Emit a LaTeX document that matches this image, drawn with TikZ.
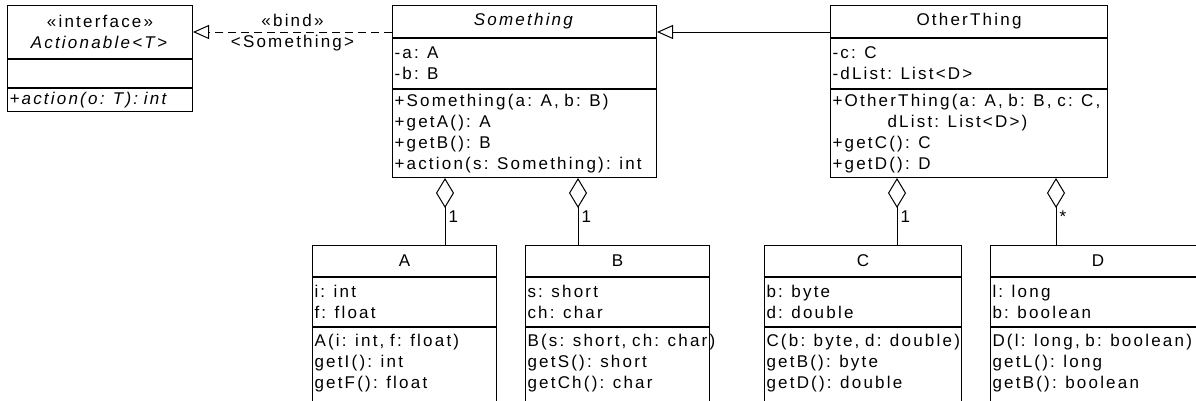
\documentclass[tikz,border=0pt]{standalone}
\usepackage{fontspec}
\setmainfont{Liberation Sans}[LetterSpace=13]
\usetikzlibrary{positioning, arrows.meta}

\begin{document}
\begin{tikzpicture}[x=1pt, y=-1pt, line width=1pt, font=\fontsize{17}{21}\selectfont]
	\tikzstyle{head}=[draw, anchor=north west, inner sep=0pt, align=center]
	\tikzstyle{part}=[draw, inner xsep=2pt, inner ysep=0pt, align=left]
	\tikzstyle{agg}=[{Diamond[open,length=30pt,width=18pt]}-]
	\tikzstyle{gen}=[-{Triangle[open,length=16pt,width=14pt]}]
	\useasboundingbox (0,0) rectangle (1196,400);

	% interface
	\node[head, minimum width=185pt, minimum height=53pt](Ihead) at (7,5){«interface»\\\textit{Actionable<T>}};
	\node[part, below=0pt of Ihead, text width=181pt, minimum height=28pt](Iattr){};
	\node[part, below=0pt of Iattr, text width=181pt, minimum height=23pt](Imeth){\textit{+action(o: T): int}};

	% abstract class
	\node[head, minimum width=264pt, minimum height=32pt](Shead) at (392,5){\textit{Something}};
	\node[part, below=0pt of Shead, text width=260pt, minimum height=50pt](Sattr){-a: A\\-b: B};
	\node[part, below=0pt of Sattr, text width=260pt, minimum height=88pt](Smeth){+Something(a: A, b: B)\\+getA(): A\\+getB(): B\\+action(s: Something): int};

	% subclass
	\node[head, minimum width=277pt, minimum height=32pt](Ohead) at (830,5){OtherThing};
	\node[part, below=0pt of Ohead, text width=273pt, minimum height=50pt](Oattr){-c: C\\-dList: List<D>};
	\node[part, below=0pt of Oattr, text width=273pt, minimum height=88pt](Ometh){+OtherThing(a: A, b: B, c: C,\\\hspace*{55pt}dList: List<D>)\\+getC(): C\\+getD(): D};

	% parts
	\node[head, minimum width=184pt, minimum height=31pt](Ahead) at (312,245){A};
	\node[part, below=0pt of Ahead, text width=180pt, minimum height=49pt](Aattr){i: int\\f: float};
	\node[part, below=0pt of Aattr, text width=180pt, minimum height=88pt](Ameth){A(i: int, f: float)\\getI(): int\\getF(): float\\\mbox{}};

	\node[head, minimum width=184pt, minimum height=31pt](Bhead) at (525,245){B};
	\node[part, below=0pt of Bhead, text width=180pt, minimum height=49pt](Battr){s: short\\ch: char};
	\node[part, below=0pt of Battr, text width=180pt, minimum height=88pt](Bmeth){\mbox{B(s: short, ch: char)}\\getS(): short\\getCh(): char\\\mbox{}};

	\node[head, minimum width=197pt, minimum height=31pt](Chead) at (764,245){C};
	\node[part, below=0pt of Chead, text width=193pt, minimum height=49pt](Cattr){b: byte\\d: double};
	\node[part, below=0pt of Cattr, text width=193pt, minimum height=88pt](Cmeth){\mbox{C(b: byte, d: double)}\\getB(): byte\\getD(): double\\\mbox{}};

	\node[head, minimum width=215pt, minimum height=31pt](Dhead) at (990,245){D};
	\node[part, below=0pt of Dhead, text width=211pt, minimum height=49pt](Dattr){l: long\\b: boolean};
	\node[part, below=0pt of Dattr, text width=211pt, minimum height=88pt](Dmeth){D(l: long, b: boolean)\\getL(): long\\getB(): boolean\\\mbox{}};

	% links
	\coordinate (jA) at (445,0);
	\coordinate (jB) at (578,0);
	\coordinate (jC) at (897,0);
	\coordinate (jD) at (1056,0);
	\draw[gen, dash pattern=on 8pt off 5pt] (Shead.west |- Ihead.east) -- (Ihead.east)
		node[midway, above, inner sep=5pt]{«bind»}
		node[midway, below, inner sep=3pt]{<Something>};
	\draw[gen] (Ohead.west |- Ihead.east) -- (Shead.east |- Ihead.east);
	\draw[agg] (Smeth.south -| jA) -- (Ahead.north -| jA) node[pos=0.57, right, inner sep=3pt]{1};
	\draw[agg] (Smeth.south -| jB) -- (Bhead.north -| jB) node[pos=0.57, right, inner sep=3pt]{1};
	\draw[agg] (Ometh.south -| jC) -- (Chead.north -| jC) node[pos=0.57, right, inner sep=3pt]{1};
	\draw[agg] (Ometh.south -| jD) -- (Dhead.north -| jD) node[pos=0.57, right, inner sep=3pt]{*};
\end{tikzpicture}
\end{document}
